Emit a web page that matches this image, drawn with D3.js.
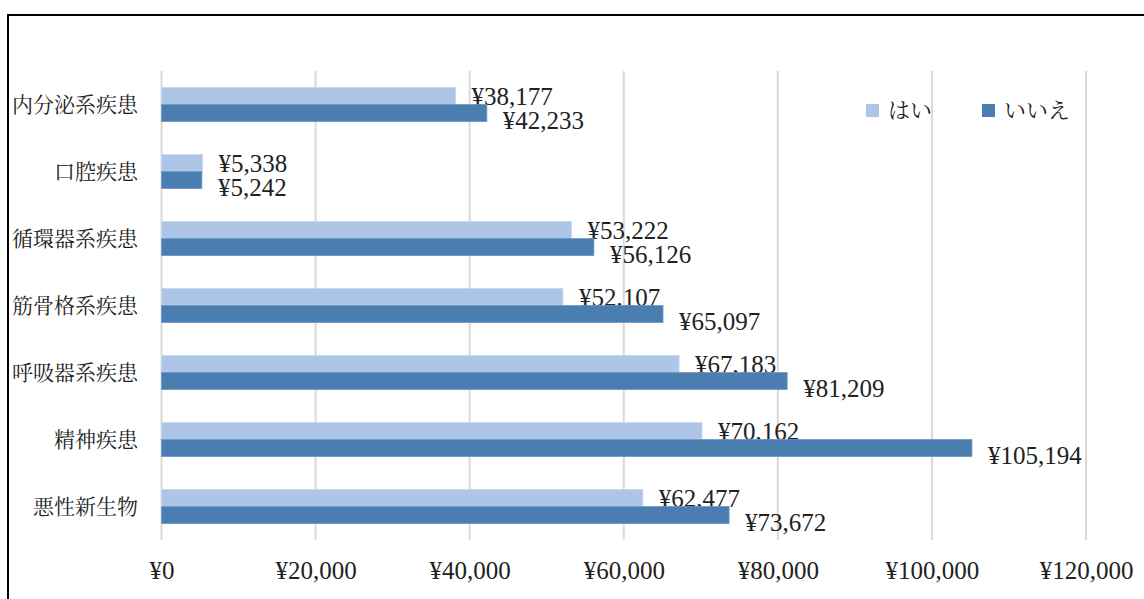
<!DOCTYPE html>
<html>
<head>
<meta charset="utf-8">
<script src="https://cdn.jsdelivr.net/npm/d3@7"></script>
<style>
  body { margin: 0; background: #fff; }
  svg text { font-family: "Liberation Serif", "Noto Serif CJK JP", "Noto Sans CJK JP", serif; fill: #222; }
</style>
</head>
<body>
<div id="chart"></div>
<script>
// categories, top to bottom
var categories = ["内分泌系疾患", "口腔疾患", "循環器系疾患", "筋骨格系疾患", "呼吸器系疾患", "精神疾患", "悪性新生物"];
var yesValues = [38177, 5338, 53222, 52107, 67183, 70162, 62477];
var noValues = [42233, 5242, 56126, 65097, 81209, 105194, 73672];
var seriesNames = ["はい", "いいえ"];
var tickValues = [0, 20000, 40000, 60000, 80000, 100000, 120000];

var width = 1144, height = 599;
var colors = ["#adc5e6", "#4a7eb0"];
var fmt = function (v) { return "¥" + d3.format(",")(v); };

var svg = d3.select("#chart").append("svg")
    .attr("width", width).attr("height", height);

// outer frame (runs off the right and bottom edge)
svg.append("rect")
    .attr("x", 8).attr("y", 15)
    .attr("width", 1300).attr("height", 800)
    .attr("fill", "none").attr("stroke", "#000").attr("stroke-width", 2);

var x = d3.scaleLinear().domain([0, 120000]).range([161.5, 1086]);
var y = d3.scaleBand().domain(categories).range([71, 540])
    .paddingInner(0.49).paddingOuter(0.245);
var sub = d3.scaleBand().domain([0, 1]).range([0, y.bandwidth()]);

// gridlines
svg.append("g").selectAll("line")
    .data(tickValues).enter().append("line")
    .attr("x1", function (d) { return x(d); }).attr("x2", function (d) { return x(d); })
    .attr("y1", 71).attr("y2", 540)
    .attr("stroke", "#d9d9d9").attr("stroke-width", 2);

// x axis labels
var xAxis = svg.append("g")
    .call(d3.axisBottom(x).tickValues(tickValues).tickFormat(fmt).tickSize(0));
xAxis.select(".domain").remove();
xAxis.selectAll("text")
    .attr("y", 570).attr("dy", "0.35em")
    .style("font-size", "25px").attr("fill", "#222");

// category labels
svg.append("g").selectAll("text")
    .data(categories).enter().append("text")
    .attr("x", 138)
    .attr("y", function (d) { return y(d) + y.bandwidth() / 2; })
    .attr("dy", "0.35em")
    .attr("text-anchor", "end")
    .style("font-size", "21px")
    .text(function (d) { return d; });

var series = [yesValues, noValues];
series.forEach(function (vals, s) {
    var g = svg.append("g");
    g.selectAll("rect")
        .data(vals).enter().append("rect")
        .attr("x", x(0))
        .attr("y", function (d, i) { return y(categories[i]) + sub(s); })
        .attr("width", function (d) { return x(d) - x(0); })
        .attr("height", sub.bandwidth())
        .attr("fill", colors[s])
        .attr("stroke", s === 0 ? "#c8d8ee" : "#6f98c2").attr("stroke-width", 0.8);

    // value labels; the second series sits a little lower, like the original
    g.selectAll("text")
        .data(vals).enter().append("text")
        .attr("x", function (d) { return x(d) + 16; })
        .attr("y", function (d, i) { return y(categories[i]) + sub(s) + sub.bandwidth() / 2 + (s === 0 ? 0 : 7.5); })
        .attr("dy", "0.35em")
        .style("font-size", "25px")
        .text(fmt);
});

// legend
var legend = svg.append("g");
var legendX = [866, 982];
seriesNames.forEach(function (name, i) {
    legend.append("rect")
        .attr("x", legendX[i]).attr("y", 104)
        .attr("width", 13).attr("height", 13)
        .attr("fill", colors[i]);
    legend.append("text")
        .attr("x", legendX[i] + 22).attr("y", 110.5)
        .attr("dy", "0.35em")
        .style("font-size", "22px")
        .text(name);
});
</script>
</body>
</html>
